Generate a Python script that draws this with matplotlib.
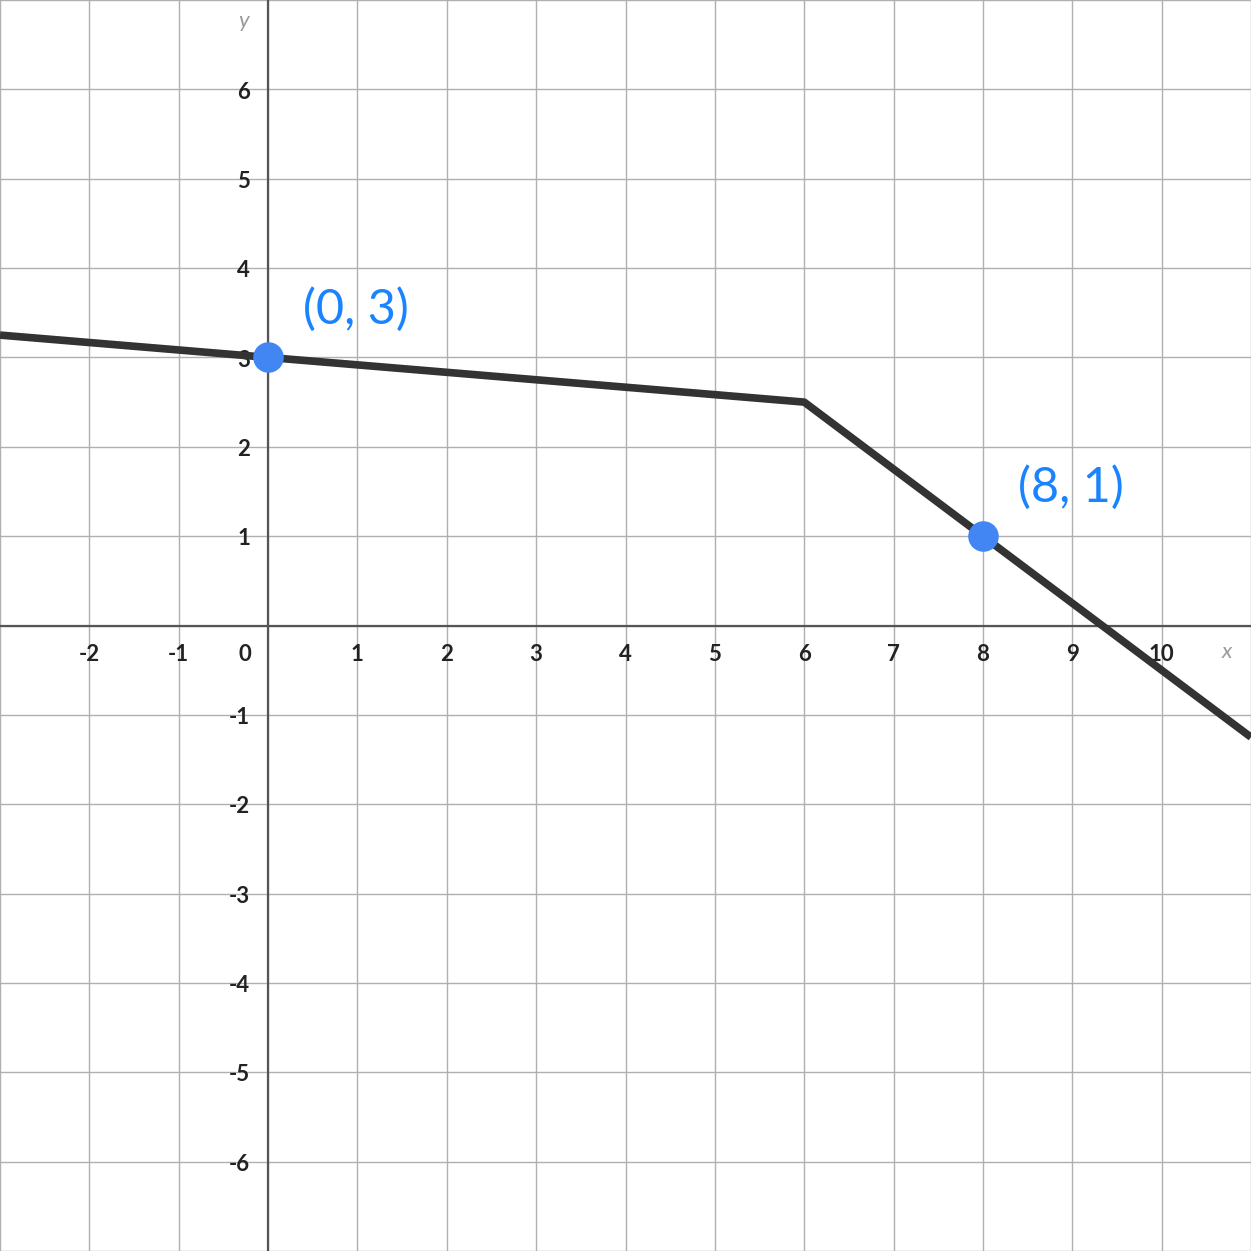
import numpy as np
from matplotlib import pyplot as plt

# piecewise linear function
line_x = [-3, 0, 6, 8, 11]
line_y = [3.25, 3, 2.5, 1, -1.25]

# labelled points
pts_x = [0, 8]
pts_y = [3, 1]
pts_lab = ['(0, 3)', '(8, 1)']

x_ticks = [-2, -1, 1, 2, 3, 4, 5, 6, 7, 8, 9, 10]
y_ticks = [-6, -5, -4, -3, -2, -1, 1, 2, 3, 4, 5, 6]

plt.rcParams['font.family'] = ['Lato', 'DejaVu Sans']

fig = plt.figure(figsize=(12.51, 12.51), dpi=100)
ax = fig.add_axes([0, 0, 1, 1])
ax.set_xlim(-3, 11)
ax.set_ylim(-7, 7)
ax.set_axis_off()

# grid
for gx in range(-3, 12):
    ax.axvline(gx, color='#b0b0b0', lw=1, zorder=1)
for gy in range(-7, 8):
    ax.axhline(gy, color='#b0b0b0', lw=1, zorder=1)

# axes
ax.axhline(0, color='#555555', lw=1.6, zorder=2)
ax.axvline(0, color='#555555', lw=1.6, zorder=2)

# tick labels
for t in x_ticks:
    ax.text(t, -0.33, str(t), ha='center', va='center', fontsize=16,
            fontweight='bold', color='#222222', zorder=3)
ax.text(-0.26, -0.33, '0', ha='center', va='center', fontsize=16,
        fontweight='bold', color='#222222', zorder=3)
for t in y_ticks:
    ax.text(-0.2, t - 0.03, str(t), ha='right', va='center', fontsize=16,
            fontweight='bold', color='#222222', zorder=3)

ax.text(10.73, -0.3, 'x', ha='center', va='center', fontsize=16,
        style='italic', color='#999999')
ax.text(-0.28, 6.77, 'y', ha='center', va='center', fontsize=16,
        style='italic', color='#999999')

# the function
ax.plot(line_x, line_y, color='#333333', lw=5.5, solid_capstyle='butt', zorder=4)

# points
ax.plot(pts_x, pts_y, 'o', color='#4286f4', markersize=21, zorder=5)
for px, py, lab in zip(pts_x, pts_y, pts_lab):
    ax.text(px + 0.98, py + 0.54, lab, ha='center', va='center', fontsize=35,
            color='#1a84ff', zorder=5)

fig.savefig('out.png', dpi=100)
